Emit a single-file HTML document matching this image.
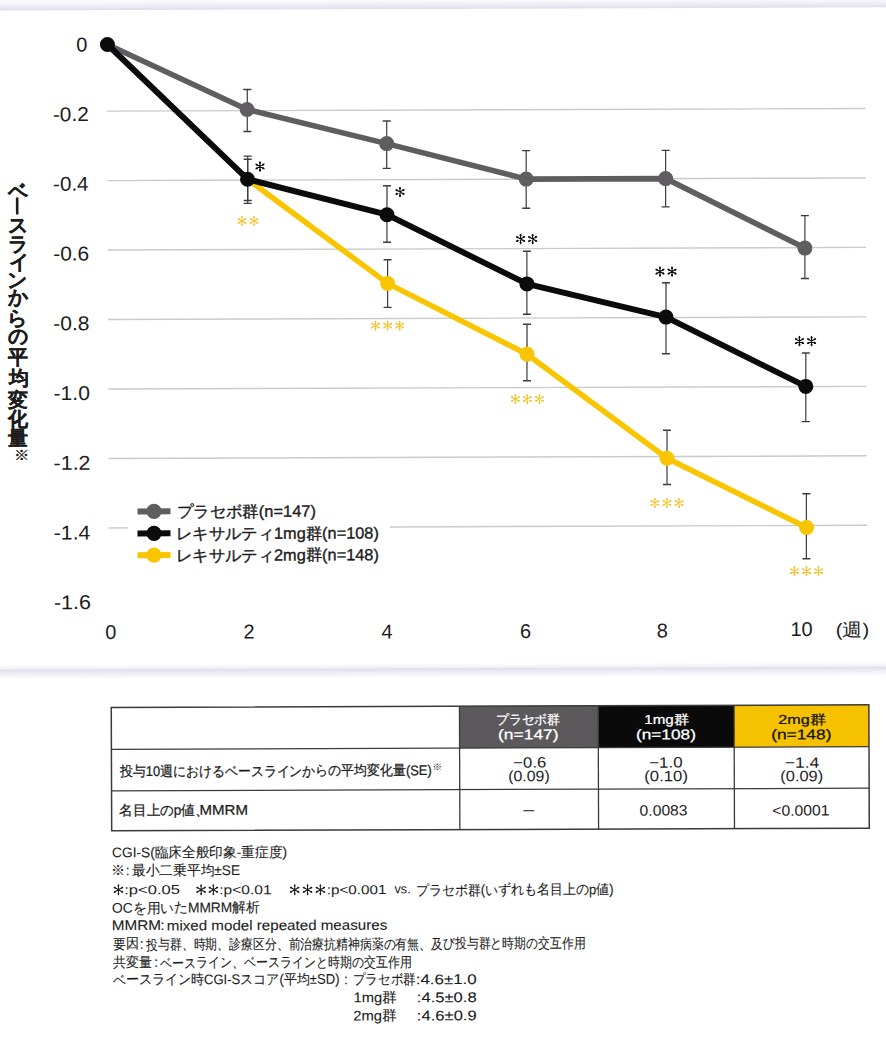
<!DOCTYPE html>
<html lang="ja"><head><meta charset="utf-8"><title>chart</title>
<style>
html,body{margin:0;padding:0;background:#fff;width:886px;height:1037px;overflow:hidden}
svg{display:block;font-family:'Liberation Sans', sans-serif}
</style></head><body>
<svg width="886" height="1037" viewBox="0 0 886 1037">
<g transform="rotate(-0.2 443 518.5)">
<defs><linearGradient id="gt" x1="0" y1="0" x2="0" y2="1"><stop offset="0" stop-color="#f9f8fc"/><stop offset="0.55" stop-color="#ecebf5"/><stop offset="1" stop-color="#dfddeb"/></linearGradient><linearGradient id="gb" x1="0" y1="0" x2="0" y2="1"><stop offset="0" stop-color="#dedce9"/><stop offset="0.3" stop-color="#e9e8f2"/><stop offset="1" stop-color="#fefeff"/></linearGradient></defs>
<rect x="-20" y="-20" width="926" height="21" fill="#f9f8fc"/>
<rect x="-20" y="0.9" width="926" height="8" fill="url(#gt)"/>
<linearGradient id="ga" x1="0" y1="0" x2="0" y2="1"><stop offset="0" stop-color="#ffffff"/><stop offset="1" stop-color="#f0eff6"/></linearGradient>
<rect x="-20" y="663" width="926" height="5" fill="url(#ga)"/>
<rect x="-20" y="668" width="926" height="9.5" fill="url(#gb)"/>
<line x1="108.7" y1="109.95" x2="867" y2="109.95" stroke="#cacaca" stroke-width="1.4"/>
<line x1="108.7" y1="179.42" x2="867" y2="179.42" stroke="#cacaca" stroke-width="1.4"/>
<line x1="108.7" y1="248.89" x2="867" y2="248.89" stroke="#cacaca" stroke-width="1.4"/>
<line x1="108.7" y1="318.36" x2="867" y2="318.36" stroke="#cacaca" stroke-width="1.4"/>
<line x1="108.7" y1="387.83" x2="867" y2="387.83" stroke="#cacaca" stroke-width="1.4"/>
<line x1="108.7" y1="457.30" x2="867" y2="457.30" stroke="#cacaca" stroke-width="1.4"/>
<line x1="108.7" y1="526.77" x2="128" y2="526.77" stroke="#cacaca" stroke-width="1.4"/>
<line x1="390" y1="526.77" x2="867" y2="526.77" stroke="#cacaca" stroke-width="1.4"/>
<rect x="16.99" y="196.02" width="2.6" height="17" fill="#1c1c1c"/>
<line x1="248.80" y1="88.82" x2="248.65" y2="130.82" stroke="#3c3c3c" stroke-width="1.2"/>
<line x1="244.80" y1="88.82" x2="252.80" y2="88.82" stroke="#3c3c3c" stroke-width="1.4"/>
<line x1="244.65" y1="130.82" x2="252.65" y2="130.82" stroke="#3c3c3c" stroke-width="1.4"/>
<line x1="248.97" y1="155.42" x2="248.81" y2="199.82" stroke="#3c3c3c" stroke-width="1.2"/>
<line x1="244.97" y1="155.42" x2="252.97" y2="155.42" stroke="#3c3c3c" stroke-width="1.4"/>
<line x1="244.81" y1="199.82" x2="252.81" y2="199.82" stroke="#3c3c3c" stroke-width="1.4"/>
<line x1="248.96" y1="158.52" x2="248.80" y2="202.72" stroke="#3c3c3c" stroke-width="1.2"/>
<line x1="244.96" y1="158.52" x2="252.96" y2="158.52" stroke="#3c3c3c" stroke-width="1.4"/>
<line x1="244.80" y1="202.72" x2="252.80" y2="202.72" stroke="#3c3c3c" stroke-width="1.4"/>
<line x1="388.09" y1="120.81" x2="387.92" y2="168.21" stroke="#3c3c3c" stroke-width="1.2"/>
<line x1="384.09" y1="120.81" x2="392.09" y2="120.81" stroke="#3c3c3c" stroke-width="1.4"/>
<line x1="383.92" y1="168.21" x2="391.92" y2="168.21" stroke="#3c3c3c" stroke-width="1.4"/>
<line x1="388.16" y1="185.61" x2="387.96" y2="242.11" stroke="#3c3c3c" stroke-width="1.2"/>
<line x1="384.16" y1="185.61" x2="392.16" y2="185.61" stroke="#3c3c3c" stroke-width="1.4"/>
<line x1="383.96" y1="242.11" x2="391.96" y2="242.11" stroke="#3c3c3c" stroke-width="1.4"/>
<line x1="388.50" y1="259.51" x2="388.34" y2="307.21" stroke="#3c3c3c" stroke-width="1.2"/>
<line x1="384.50" y1="259.51" x2="392.50" y2="259.51" stroke="#3c3c3c" stroke-width="1.4"/>
<line x1="384.34" y1="307.21" x2="392.34" y2="307.21" stroke="#3c3c3c" stroke-width="1.4"/>
<line x1="527.48" y1="150.89" x2="527.28" y2="208.59" stroke="#3c3c3c" stroke-width="1.2"/>
<line x1="523.48" y1="150.89" x2="531.48" y2="150.89" stroke="#3c3c3c" stroke-width="1.4"/>
<line x1="523.28" y1="208.59" x2="531.28" y2="208.59" stroke="#3c3c3c" stroke-width="1.4"/>
<line x1="527.83" y1="251.59" x2="527.61" y2="314.59" stroke="#3c3c3c" stroke-width="1.2"/>
<line x1="523.83" y1="251.59" x2="531.83" y2="251.59" stroke="#3c3c3c" stroke-width="1.4"/>
<line x1="523.61" y1="314.59" x2="531.61" y2="314.59" stroke="#3c3c3c" stroke-width="1.4"/>
<line x1="527.68" y1="324.49" x2="527.48" y2="380.99" stroke="#3c3c3c" stroke-width="1.2"/>
<line x1="523.68" y1="324.49" x2="531.68" y2="324.49" stroke="#3c3c3c" stroke-width="1.4"/>
<line x1="523.48" y1="380.99" x2="531.48" y2="380.99" stroke="#3c3c3c" stroke-width="1.4"/>
<line x1="666.88" y1="151.18" x2="666.69" y2="207.68" stroke="#3c3c3c" stroke-width="1.2"/>
<line x1="662.88" y1="151.18" x2="670.88" y2="151.18" stroke="#3c3c3c" stroke-width="1.4"/>
<line x1="662.69" y1="207.68" x2="670.69" y2="207.68" stroke="#3c3c3c" stroke-width="1.4"/>
<line x1="666.82" y1="283.58" x2="666.57" y2="354.48" stroke="#3c3c3c" stroke-width="1.2"/>
<line x1="662.82" y1="283.58" x2="670.82" y2="283.58" stroke="#3c3c3c" stroke-width="1.4"/>
<line x1="662.57" y1="354.48" x2="670.57" y2="354.48" stroke="#3c3c3c" stroke-width="1.4"/>
<line x1="667.31" y1="430.98" x2="667.12" y2="485.28" stroke="#3c3c3c" stroke-width="1.2"/>
<line x1="663.31" y1="430.98" x2="671.31" y2="430.98" stroke="#3c3c3c" stroke-width="1.4"/>
<line x1="663.12" y1="485.28" x2="671.12" y2="485.28" stroke="#3c3c3c" stroke-width="1.4"/>
<line x1="805.96" y1="216.87" x2="805.74" y2="279.76" stroke="#3c3c3c" stroke-width="1.2"/>
<line x1="801.96" y1="216.87" x2="809.96" y2="216.87" stroke="#3c3c3c" stroke-width="1.4"/>
<line x1="801.74" y1="279.76" x2="809.74" y2="279.76" stroke="#3c3c3c" stroke-width="1.4"/>
<line x1="806.38" y1="354.27" x2="806.14" y2="422.87" stroke="#3c3c3c" stroke-width="1.2"/>
<line x1="802.38" y1="354.27" x2="810.38" y2="354.27" stroke="#3c3c3c" stroke-width="1.4"/>
<line x1="802.14" y1="422.87" x2="810.14" y2="422.87" stroke="#3c3c3c" stroke-width="1.4"/>
<line x1="806.48" y1="495.07" x2="806.26" y2="559.97" stroke="#3c3c3c" stroke-width="1.2"/>
<line x1="802.48" y1="495.07" x2="810.48" y2="495.07" stroke="#3c3c3c" stroke-width="1.4"/>
<line x1="802.26" y1="559.97" x2="810.26" y2="559.97" stroke="#3c3c3c" stroke-width="1.4"/>
<polyline points="109.06,43.33 248.53,108.82 388.01,143.41 527.38,179.39 666.79,179.38 805.84,249.36" fill="none" stroke="#5f5d60" stroke-width="5.6" stroke-linejoin="round"/>
<circle cx="248.53" cy="108.82" r="7.5" fill="#5f5d60"/>
<circle cx="388.01" cy="143.41" r="7.5" fill="#5f5d60"/>
<circle cx="527.38" cy="179.39" r="7.5" fill="#5f5d60"/>
<circle cx="666.79" cy="179.38" r="7.5" fill="#5f5d60"/>
<circle cx="805.84" cy="249.36" r="7.5" fill="#5f5d60"/>
<polyline points="248.69,178.52 388.42,283.21 527.57,354.49 667.21,459.08 806.57,528.77" fill="none" stroke="#f8c500" stroke-width="5.5" stroke-linejoin="round"/>
<circle cx="388.42" cy="283.21" r="7.5" fill="#f8c500"/>
<circle cx="527.57" cy="354.49" r="7.5" fill="#f8c500"/>
<circle cx="667.21" cy="459.08" r="7.5" fill="#f8c500"/>
<circle cx="806.57" cy="528.77" r="7.5" fill="#f8c500"/>
<polyline points="109.06,43.33 248.69,178.52 388.06,214.51 527.72,284.19 666.70,317.88 806.26,387.67" fill="none" stroke="#0b0b0b" stroke-width="5.9" stroke-linejoin="round"/>
<circle cx="109.06" cy="43.33" r="7.5" fill="#0b0b0b"/>
<circle cx="248.69" cy="178.52" r="7.5" fill="#0b0b0b"/>
<circle cx="388.06" cy="214.51" r="7.5" fill="#0b0b0b"/>
<circle cx="527.72" cy="284.19" r="7.5" fill="#0b0b0b"/>
<circle cx="666.70" cy="317.88" r="7.5" fill="#0b0b0b"/>
<circle cx="806.26" cy="387.67" r="7.5" fill="#0b0b0b"/>
<path d="M261.23 161.16L261.23 170.56M257.16 163.51L265.30 168.21M257.16 168.21L265.30 163.51" stroke="#0b0b0b" stroke-width="1.12" stroke-linecap="round" fill="none"/>
<circle cx="261.23" cy="169.51" r="1.05" fill="#0b0b0b"/>
<circle cx="258.07" cy="167.69" r="1.05" fill="#0b0b0b"/>
<circle cx="258.07" cy="164.04" r="1.05" fill="#0b0b0b"/>
<circle cx="261.23" cy="162.21" r="1.05" fill="#0b0b0b"/>
<circle cx="264.39" cy="164.04" r="1.05" fill="#0b0b0b"/>
<circle cx="264.39" cy="167.69" r="1.05" fill="#0b0b0b"/>
<path d="M242.99 215.70L242.99 224.90M239.01 218.00L246.97 222.60M239.01 222.60L246.97 218.00" stroke="#f3c22a" stroke-width="1.05" stroke-linecap="round" fill="none"/>
<circle cx="242.99" cy="223.95" r="0.95" fill="#f3c22a"/>
<circle cx="239.83" cy="222.13" r="0.95" fill="#f3c22a"/>
<circle cx="239.83" cy="218.48" r="0.95" fill="#f3c22a"/>
<circle cx="242.99" cy="216.65" r="0.95" fill="#f3c22a"/>
<circle cx="246.15" cy="218.48" r="0.95" fill="#f3c22a"/>
<circle cx="246.15" cy="222.13" r="0.95" fill="#f3c22a"/>
<path d="M255.09 215.74L255.09 224.94M251.11 218.04L259.07 222.64M251.11 222.64L259.07 218.04" stroke="#f3c22a" stroke-width="1.05" stroke-linecap="round" fill="none"/>
<circle cx="255.09" cy="223.99" r="0.95" fill="#f3c22a"/>
<circle cx="251.93" cy="222.17" r="0.95" fill="#f3c22a"/>
<circle cx="251.93" cy="218.52" r="0.95" fill="#f3c22a"/>
<circle cx="255.09" cy="216.69" r="0.95" fill="#f3c22a"/>
<circle cx="258.25" cy="218.52" r="0.95" fill="#f3c22a"/>
<circle cx="258.25" cy="222.17" r="0.95" fill="#f3c22a"/>
<path d="M401.14 187.15L401.14 196.55M397.07 189.50L405.21 194.20M397.07 194.20L405.21 189.50" stroke="#0b0b0b" stroke-width="1.12" stroke-linecap="round" fill="none"/>
<circle cx="401.14" cy="195.50" r="1.05" fill="#0b0b0b"/>
<circle cx="397.98" cy="193.68" r="1.05" fill="#0b0b0b"/>
<circle cx="397.98" cy="190.03" r="1.05" fill="#0b0b0b"/>
<circle cx="401.14" cy="188.20" r="1.05" fill="#0b0b0b"/>
<circle cx="404.30" cy="190.03" r="1.05" fill="#0b0b0b"/>
<circle cx="404.30" cy="193.68" r="1.05" fill="#0b0b0b"/>
<path d="M376.17 320.77L376.17 329.97M372.19 323.07L380.16 327.67M372.19 327.67L380.16 323.07" stroke="#f3c22a" stroke-width="1.05" stroke-linecap="round" fill="none"/>
<circle cx="376.17" cy="329.02" r="0.95" fill="#f3c22a"/>
<circle cx="373.01" cy="327.19" r="0.95" fill="#f3c22a"/>
<circle cx="373.01" cy="323.54" r="0.95" fill="#f3c22a"/>
<circle cx="376.17" cy="321.72" r="0.95" fill="#f3c22a"/>
<circle cx="379.33" cy="323.54" r="0.95" fill="#f3c22a"/>
<circle cx="379.33" cy="327.19" r="0.95" fill="#f3c22a"/>
<path d="M388.27 320.81L388.27 330.01M384.29 323.11L392.26 327.71M384.29 327.71L392.26 323.11" stroke="#f3c22a" stroke-width="1.05" stroke-linecap="round" fill="none"/>
<circle cx="388.27" cy="329.06" r="0.95" fill="#f3c22a"/>
<circle cx="385.11" cy="327.23" r="0.95" fill="#f3c22a"/>
<circle cx="385.11" cy="323.58" r="0.95" fill="#f3c22a"/>
<circle cx="388.27" cy="321.76" r="0.95" fill="#f3c22a"/>
<circle cx="391.43" cy="323.58" r="0.95" fill="#f3c22a"/>
<circle cx="391.43" cy="327.23" r="0.95" fill="#f3c22a"/>
<path d="M400.37 320.85L400.37 330.05M396.39 323.15L404.36 327.75M396.39 327.75L404.36 323.15" stroke="#f3c22a" stroke-width="1.05" stroke-linecap="round" fill="none"/>
<circle cx="400.37" cy="329.10" r="0.95" fill="#f3c22a"/>
<circle cx="397.21" cy="327.28" r="0.95" fill="#f3c22a"/>
<circle cx="397.21" cy="323.63" r="0.95" fill="#f3c22a"/>
<circle cx="400.37" cy="321.80" r="0.95" fill="#f3c22a"/>
<circle cx="403.53" cy="323.63" r="0.95" fill="#f3c22a"/>
<circle cx="403.53" cy="327.28" r="0.95" fill="#f3c22a"/>
<path d="M521.53 234.57L521.53 243.97M517.45 236.92L525.60 241.62M517.45 241.62L525.60 236.92" stroke="#0b0b0b" stroke-width="1.12" stroke-linecap="round" fill="none"/>
<circle cx="521.53" cy="242.92" r="1.05" fill="#0b0b0b"/>
<circle cx="518.36" cy="241.10" r="1.05" fill="#0b0b0b"/>
<circle cx="518.36" cy="237.45" r="1.05" fill="#0b0b0b"/>
<circle cx="521.53" cy="235.62" r="1.05" fill="#0b0b0b"/>
<circle cx="524.69" cy="237.45" r="1.05" fill="#0b0b0b"/>
<circle cx="524.69" cy="241.10" r="1.05" fill="#0b0b0b"/>
<path d="M533.63 234.61L533.63 244.01M529.55 236.96L537.70 241.66M529.55 241.66L537.70 236.96" stroke="#0b0b0b" stroke-width="1.12" stroke-linecap="round" fill="none"/>
<circle cx="533.63" cy="242.96" r="1.05" fill="#0b0b0b"/>
<circle cx="530.46" cy="241.14" r="1.05" fill="#0b0b0b"/>
<circle cx="530.46" cy="237.49" r="1.05" fill="#0b0b0b"/>
<circle cx="533.63" cy="235.66" r="1.05" fill="#0b0b0b"/>
<circle cx="536.79" cy="237.49" r="1.05" fill="#0b0b0b"/>
<circle cx="536.79" cy="241.14" r="1.05" fill="#0b0b0b"/>
<path d="M515.72 394.65L515.72 403.85M511.73 396.95L519.70 401.55M511.73 401.55L519.70 396.95" stroke="#f3c22a" stroke-width="1.05" stroke-linecap="round" fill="none"/>
<circle cx="515.72" cy="402.90" r="0.95" fill="#f3c22a"/>
<circle cx="512.56" cy="401.08" r="0.95" fill="#f3c22a"/>
<circle cx="512.56" cy="397.43" r="0.95" fill="#f3c22a"/>
<circle cx="515.72" cy="395.60" r="0.95" fill="#f3c22a"/>
<circle cx="518.88" cy="397.43" r="0.95" fill="#f3c22a"/>
<circle cx="518.88" cy="401.08" r="0.95" fill="#f3c22a"/>
<path d="M527.82 394.70L527.82 403.90M523.83 397.00L531.80 401.60M523.83 401.60L531.80 397.00" stroke="#f3c22a" stroke-width="1.05" stroke-linecap="round" fill="none"/>
<circle cx="527.82" cy="402.95" r="0.95" fill="#f3c22a"/>
<circle cx="524.66" cy="401.12" r="0.95" fill="#f3c22a"/>
<circle cx="524.66" cy="397.47" r="0.95" fill="#f3c22a"/>
<circle cx="527.82" cy="395.65" r="0.95" fill="#f3c22a"/>
<circle cx="530.98" cy="397.47" r="0.95" fill="#f3c22a"/>
<circle cx="530.98" cy="401.12" r="0.95" fill="#f3c22a"/>
<path d="M539.92 394.74L539.92 403.94M535.93 397.04L543.90 401.64M535.93 401.64L543.90 397.04" stroke="#f3c22a" stroke-width="1.05" stroke-linecap="round" fill="none"/>
<circle cx="539.92" cy="402.99" r="0.95" fill="#f3c22a"/>
<circle cx="536.76" cy="401.16" r="0.95" fill="#f3c22a"/>
<circle cx="536.76" cy="397.51" r="0.95" fill="#f3c22a"/>
<circle cx="539.92" cy="395.69" r="0.95" fill="#f3c22a"/>
<circle cx="543.08" cy="397.51" r="0.95" fill="#f3c22a"/>
<circle cx="543.08" cy="401.16" r="0.95" fill="#f3c22a"/>
<path d="M660.81 267.66L660.81 277.06M656.74 270.01L664.88 274.71M656.74 274.71L664.88 270.01" stroke="#0b0b0b" stroke-width="1.12" stroke-linecap="round" fill="none"/>
<circle cx="660.81" cy="276.01" r="1.05" fill="#0b0b0b"/>
<circle cx="657.65" cy="274.18" r="1.05" fill="#0b0b0b"/>
<circle cx="657.65" cy="270.53" r="1.05" fill="#0b0b0b"/>
<circle cx="660.81" cy="268.71" r="1.05" fill="#0b0b0b"/>
<circle cx="663.97" cy="270.53" r="1.05" fill="#0b0b0b"/>
<circle cx="663.97" cy="274.18" r="1.05" fill="#0b0b0b"/>
<path d="M672.91 267.70L672.91 277.10M668.84 270.05L676.98 274.75M668.84 274.75L676.98 270.05" stroke="#0b0b0b" stroke-width="1.12" stroke-linecap="round" fill="none"/>
<circle cx="672.91" cy="276.05" r="1.05" fill="#0b0b0b"/>
<circle cx="669.75" cy="274.23" r="1.05" fill="#0b0b0b"/>
<circle cx="669.75" cy="270.58" r="1.05" fill="#0b0b0b"/>
<circle cx="672.91" cy="268.75" r="1.05" fill="#0b0b0b"/>
<circle cx="676.07" cy="270.58" r="1.05" fill="#0b0b0b"/>
<circle cx="676.07" cy="274.23" r="1.05" fill="#0b0b0b"/>
<path d="M654.95 499.14L654.95 508.34M650.97 501.44L658.94 506.04M650.97 506.04L658.94 501.44" stroke="#f3c22a" stroke-width="1.05" stroke-linecap="round" fill="none"/>
<circle cx="654.95" cy="507.39" r="0.95" fill="#f3c22a"/>
<circle cx="651.79" cy="505.56" r="0.95" fill="#f3c22a"/>
<circle cx="651.79" cy="501.91" r="0.95" fill="#f3c22a"/>
<circle cx="654.95" cy="500.09" r="0.95" fill="#f3c22a"/>
<circle cx="658.11" cy="501.91" r="0.95" fill="#f3c22a"/>
<circle cx="658.11" cy="505.56" r="0.95" fill="#f3c22a"/>
<path d="M667.05 499.18L667.05 508.38M663.07 501.48L671.04 506.08M663.07 506.08L671.04 501.48" stroke="#f3c22a" stroke-width="1.05" stroke-linecap="round" fill="none"/>
<circle cx="667.05" cy="507.43" r="0.95" fill="#f3c22a"/>
<circle cx="663.89" cy="505.61" r="0.95" fill="#f3c22a"/>
<circle cx="663.89" cy="501.96" r="0.95" fill="#f3c22a"/>
<circle cx="667.05" cy="500.13" r="0.95" fill="#f3c22a"/>
<circle cx="670.21" cy="501.96" r="0.95" fill="#f3c22a"/>
<circle cx="670.21" cy="505.61" r="0.95" fill="#f3c22a"/>
<path d="M679.15 499.22L679.15 508.42M675.17 501.52L683.14 506.12M675.17 506.12L683.14 501.52" stroke="#f3c22a" stroke-width="1.05" stroke-linecap="round" fill="none"/>
<circle cx="679.15" cy="507.47" r="0.95" fill="#f3c22a"/>
<circle cx="675.99" cy="505.65" r="0.95" fill="#f3c22a"/>
<circle cx="675.99" cy="502.00" r="0.95" fill="#f3c22a"/>
<circle cx="679.15" cy="500.17" r="0.95" fill="#f3c22a"/>
<circle cx="682.31" cy="502.00" r="0.95" fill="#f3c22a"/>
<circle cx="682.31" cy="505.65" r="0.95" fill="#f3c22a"/>
<path d="M800.07 337.65L800.07 347.05M796.00 340.00L804.14 344.70M796.00 344.70L804.14 340.00" stroke="#0b0b0b" stroke-width="1.12" stroke-linecap="round" fill="none"/>
<circle cx="800.07" cy="346.00" r="1.05" fill="#0b0b0b"/>
<circle cx="796.91" cy="344.17" r="1.05" fill="#0b0b0b"/>
<circle cx="796.91" cy="340.52" r="1.05" fill="#0b0b0b"/>
<circle cx="800.07" cy="338.70" r="1.05" fill="#0b0b0b"/>
<circle cx="803.23" cy="340.52" r="1.05" fill="#0b0b0b"/>
<circle cx="803.23" cy="344.17" r="1.05" fill="#0b0b0b"/>
<path d="M812.17 337.69L812.17 347.09M808.10 340.04L816.24 344.74M808.10 344.74L816.24 340.04" stroke="#0b0b0b" stroke-width="1.12" stroke-linecap="round" fill="none"/>
<circle cx="812.17" cy="346.04" r="1.05" fill="#0b0b0b"/>
<circle cx="809.01" cy="344.21" r="1.05" fill="#0b0b0b"/>
<circle cx="809.01" cy="340.56" r="1.05" fill="#0b0b0b"/>
<circle cx="812.17" cy="338.74" r="1.05" fill="#0b0b0b"/>
<circle cx="815.33" cy="340.56" r="1.05" fill="#0b0b0b"/>
<circle cx="815.33" cy="344.21" r="1.05" fill="#0b0b0b"/>
<path d="M794.21 567.83L794.21 577.03M790.23 570.13L798.20 574.73M790.23 574.73L798.20 570.13" stroke="#f3c22a" stroke-width="1.05" stroke-linecap="round" fill="none"/>
<circle cx="794.21" cy="576.08" r="0.95" fill="#f3c22a"/>
<circle cx="791.05" cy="574.25" r="0.95" fill="#f3c22a"/>
<circle cx="791.05" cy="570.60" r="0.95" fill="#f3c22a"/>
<circle cx="794.21" cy="568.78" r="0.95" fill="#f3c22a"/>
<circle cx="797.37" cy="570.60" r="0.95" fill="#f3c22a"/>
<circle cx="797.37" cy="574.25" r="0.95" fill="#f3c22a"/>
<path d="M806.31 567.87L806.31 577.07M802.33 570.17L810.30 574.77M802.33 574.77L810.30 570.17" stroke="#f3c22a" stroke-width="1.05" stroke-linecap="round" fill="none"/>
<circle cx="806.31" cy="576.12" r="0.95" fill="#f3c22a"/>
<circle cx="803.15" cy="574.29" r="0.95" fill="#f3c22a"/>
<circle cx="803.15" cy="570.64" r="0.95" fill="#f3c22a"/>
<circle cx="806.31" cy="568.82" r="0.95" fill="#f3c22a"/>
<circle cx="809.47" cy="570.64" r="0.95" fill="#f3c22a"/>
<circle cx="809.47" cy="574.29" r="0.95" fill="#f3c22a"/>
<path d="M818.41 567.91L818.41 577.11M814.43 570.21L822.40 574.81M814.43 574.81L822.40 570.21" stroke="#f3c22a" stroke-width="1.05" stroke-linecap="round" fill="none"/>
<circle cx="818.41" cy="576.16" r="0.95" fill="#f3c22a"/>
<circle cx="815.25" cy="574.34" r="0.95" fill="#f3c22a"/>
<circle cx="815.25" cy="570.69" r="0.95" fill="#f3c22a"/>
<circle cx="818.41" cy="568.86" r="0.95" fill="#f3c22a"/>
<circle cx="821.57" cy="570.69" r="0.95" fill="#f3c22a"/>
<circle cx="821.57" cy="574.34" r="0.95" fill="#f3c22a"/>
<rect x="128" y="493.90" width="262" height="72" fill="#fff"/>
<line x1="137.53" y1="510.39" x2="170.53" y2="510.39" stroke="#5f5d60" stroke-width="6"/>
<circle cx="154.03" cy="510.39" r="7.6" fill="#5f5d60"/>
<line x1="137.45" y1="532.39" x2="170.45" y2="532.39" stroke="#0b0b0b" stroke-width="6"/>
<circle cx="153.95" cy="532.39" r="7.6" fill="#0b0b0b"/>
<line x1="137.37" y1="554.09" x2="170.37" y2="554.09" stroke="#f8c500" stroke-width="6"/>
<circle cx="153.87" cy="554.09" r="7.6" fill="#f8c500"/>
<rect x="458.8" y="706.3" width="138.7" height="41.90000000000009" fill="#5b595c"/>
<rect x="597.5" y="706.3" width="135.89999999999998" height="41.90000000000009" fill="#0a0a0a"/>
<rect x="733.4" y="706.3" width="134.80000000000007" height="41.90000000000009" fill="#f6c200"/>
<rect x="110.6" y="706.3" width="757.6" height="123.40000000000009" fill="none" stroke="#3b3b3b" stroke-width="1.5"/>
<line x1="110.6" y1="748.2" x2="868.2" y2="748.2" stroke="#3b3b3b" stroke-width="1.3"/>
<line x1="110.6" y1="789.7" x2="868.2" y2="789.7" stroke="#3b3b3b" stroke-width="1.3"/>
<line x1="458.8" y1="706.3" x2="458.8" y2="829.7" stroke="#3b3b3b" stroke-width="1.3"/>
<line x1="597.5" y1="706.3" x2="597.5" y2="829.7" stroke="#3b3b3b" stroke-width="1.3"/>
<line x1="733.4" y1="706.3" x2="733.4" y2="829.7" stroke="#3b3b3b" stroke-width="1.3"/>
<path d="M117.16 883.56L117.16 893.56M112.83 886.06L121.49 891.06M112.83 891.06L121.49 886.06" stroke="#1c1c1c" stroke-width="1.05" stroke-linecap="round" fill="none"/>
<circle cx="117.16" cy="892.66" r="0.90" fill="#1c1c1c"/>
<circle cx="113.61" cy="890.61" r="0.90" fill="#1c1c1c"/>
<circle cx="113.61" cy="886.51" r="0.90" fill="#1c1c1c"/>
<circle cx="117.16" cy="884.46" r="0.90" fill="#1c1c1c"/>
<circle cx="120.71" cy="886.51" r="0.90" fill="#1c1c1c"/>
<circle cx="120.71" cy="890.61" r="0.90" fill="#1c1c1c"/>
<path d="M199.83 883.85L199.83 893.85M195.50 886.35L204.16 891.35M195.50 891.35L204.16 886.35" stroke="#1c1c1c" stroke-width="1.05" stroke-linecap="round" fill="none"/>
<circle cx="199.83" cy="892.95" r="0.90" fill="#1c1c1c"/>
<circle cx="196.28" cy="890.90" r="0.90" fill="#1c1c1c"/>
<circle cx="196.28" cy="886.80" r="0.90" fill="#1c1c1c"/>
<circle cx="199.83" cy="884.75" r="0.90" fill="#1c1c1c"/>
<circle cx="203.38" cy="886.80" r="0.90" fill="#1c1c1c"/>
<circle cx="203.38" cy="890.90" r="0.90" fill="#1c1c1c"/>
<path d="M212.08 883.90L212.08 893.90M207.75 886.40L216.41 891.40M207.75 891.40L216.41 886.40" stroke="#1c1c1c" stroke-width="1.05" stroke-linecap="round" fill="none"/>
<circle cx="212.08" cy="893.00" r="0.90" fill="#1c1c1c"/>
<circle cx="208.53" cy="890.95" r="0.90" fill="#1c1c1c"/>
<circle cx="208.53" cy="886.85" r="0.90" fill="#1c1c1c"/>
<circle cx="212.08" cy="884.80" r="0.90" fill="#1c1c1c"/>
<circle cx="215.63" cy="886.85" r="0.90" fill="#1c1c1c"/>
<circle cx="215.63" cy="890.95" r="0.90" fill="#1c1c1c"/>
<path d="M293.42 884.18L293.42 894.18M289.09 886.68L297.75 891.68M289.09 891.68L297.75 886.68" stroke="#1c1c1c" stroke-width="1.05" stroke-linecap="round" fill="none"/>
<circle cx="293.42" cy="893.28" r="0.90" fill="#1c1c1c"/>
<circle cx="289.87" cy="891.23" r="0.90" fill="#1c1c1c"/>
<circle cx="289.87" cy="887.13" r="0.90" fill="#1c1c1c"/>
<circle cx="293.42" cy="885.08" r="0.90" fill="#1c1c1c"/>
<circle cx="296.97" cy="887.13" r="0.90" fill="#1c1c1c"/>
<circle cx="296.97" cy="891.23" r="0.90" fill="#1c1c1c"/>
<path d="M306.26 884.22L306.26 894.22M301.92 886.72L310.59 891.72M301.92 891.72L310.59 886.72" stroke="#1c1c1c" stroke-width="1.05" stroke-linecap="round" fill="none"/>
<circle cx="306.26" cy="893.32" r="0.90" fill="#1c1c1c"/>
<circle cx="302.70" cy="891.27" r="0.90" fill="#1c1c1c"/>
<circle cx="302.70" cy="887.17" r="0.90" fill="#1c1c1c"/>
<circle cx="306.26" cy="885.12" r="0.90" fill="#1c1c1c"/>
<circle cx="309.81" cy="887.17" r="0.90" fill="#1c1c1c"/>
<circle cx="309.81" cy="891.27" r="0.90" fill="#1c1c1c"/>
<path d="M319.09 884.27L319.09 894.27M314.76 886.77L323.42 891.77M314.76 891.77L323.42 886.77" stroke="#1c1c1c" stroke-width="1.05" stroke-linecap="round" fill="none"/>
<circle cx="319.09" cy="893.37" r="0.90" fill="#1c1c1c"/>
<circle cx="315.54" cy="891.32" r="0.90" fill="#1c1c1c"/>
<circle cx="315.54" cy="887.22" r="0.90" fill="#1c1c1c"/>
<circle cx="319.09" cy="885.17" r="0.90" fill="#1c1c1c"/>
<circle cx="322.64" cy="887.22" r="0.90" fill="#1c1c1c"/>
<circle cx="322.64" cy="891.32" r="0.90" fill="#1c1c1c"/>
<text x="77.88" y="50.12" font-size="20" fill="#1c1c1c">0</text>
<text x="54.28" y="119.80" font-size="20" fill="#1c1c1c" textLength="35.89" lengthAdjust="spacingAndGlyphs">-0.2</text>
<text x="54.20" y="189.52" font-size="20" fill="#1c1c1c" textLength="35.56" lengthAdjust="spacingAndGlyphs">-0.4</text>
<text x="54.09" y="259.24" font-size="20" fill="#1c1c1c" textLength="36.04" lengthAdjust="spacingAndGlyphs">-0.6</text>
<text x="53.99" y="328.96" font-size="20" fill="#1c1c1c" textLength="36.24" lengthAdjust="spacingAndGlyphs">-0.8</text>
<text x="53.90" y="398.68" font-size="20" fill="#1c1c1c" textLength="36.45" lengthAdjust="spacingAndGlyphs">-1.0</text>
<text x="53.79" y="468.53" font-size="20" fill="#1c1c1c" textLength="36.94" lengthAdjust="spacingAndGlyphs">-1.2</text>
<text x="53.71" y="538.12" font-size="20" fill="#1c1c1c" textLength="36.59" lengthAdjust="spacingAndGlyphs">-1.4</text>
<text x="53.60" y="607.84" font-size="20" fill="#1c1c1c" textLength="37.08" lengthAdjust="spacingAndGlyphs">-1.6</text>
<text x="104.88" y="637.72" font-size="20" fill="#1c1c1c">0</text>
<text x="243.08" y="637.82" font-size="20" fill="#1c1c1c">2</text>
<text x="381.11" y="638.18" font-size="20" fill="#1c1c1c">4</text>
<text x="519.48" y="638.16" font-size="20" fill="#1c1c1c">6</text>
<text x="656.41" y="638.14" font-size="20" fill="#1c1c1c">8</text>
<text x="790.01" y="637.33" font-size="20" fill="#1c1c1c">10</text>
<text x="835.29" y="637.30" font-size="18" fill="#1c1c1c" textLength="33.54" lengthAdjust="spacingAndGlyphs">(週)</text>
<text x="8.88" y="196.09" font-size="20" font-weight="bold" fill="#1c1c1c" stroke="#1c1c1c" stroke-width="0.15">ベ</text>
<text x="9.13" y="229.99" font-size="20" font-weight="bold" fill="#1c1c1c" stroke="#1c1c1c" stroke-width="0.15">ス</text>
<text x="9.18" y="249.32" font-size="20" font-weight="bold" fill="#1c1c1c" stroke="#1c1c1c" stroke-width="0.15">ラ</text>
<text x="9.62" y="267.22" font-size="20" font-weight="bold" fill="#1c1c1c" stroke="#1c1c1c" stroke-width="0.15">イ</text>
<text x="8.06" y="285.02" font-size="20" font-weight="bold" fill="#1c1c1c" stroke="#1c1c1c" stroke-width="0.15">ン</text>
<text x="8.37" y="302.97" font-size="20" font-weight="bold" fill="#1c1c1c" stroke="#1c1c1c" stroke-width="0.15">か</text>
<text x="8.18" y="323.02" font-size="20" font-weight="bold" fill="#1c1c1c" stroke="#1c1c1c" stroke-width="0.15">ら</text>
<text x="8.23" y="341.94" font-size="20" font-weight="bold" fill="#1c1c1c" stroke="#1c1c1c" stroke-width="0.15">の</text>
<text x="8.41" y="362.72" font-size="20" font-weight="bold" fill="#1c1c1c" stroke="#1c1c1c" stroke-width="0.15">平</text>
<text x="9.22" y="383.59" font-size="20" font-weight="bold" fill="#1c1c1c" stroke="#1c1c1c" stroke-width="0.15">均</text>
<text x="8.27" y="405.02" font-size="20" font-weight="bold" fill="#1c1c1c" stroke="#1c1c1c" stroke-width="0.15">変</text>
<text x="8.07" y="424.79" font-size="20" font-weight="bold" fill="#1c1c1c" stroke="#1c1c1c" stroke-width="0.15">化</text>
<text x="8.13" y="443.84" font-size="20" font-weight="bold" fill="#1c1c1c" stroke="#1c1c1c" stroke-width="0.15">量</text>
<text x="14.51" y="458.33" font-size="14" fill="#1c1c1c" stroke="#1c1c1c" stroke-width="0.3" textLength="15.33" lengthAdjust="spacingAndGlyphs">※</text>
<text x="176.84" y="516.09" font-size="16" fill="#1c1c1c" stroke="#1c1c1c" stroke-width="0.35" textLength="139.05" lengthAdjust="spacingAndGlyphs">プラセボ群(n=147)</text>
<text x="176.01" y="538.20" font-size="16" fill="#1c1c1c" stroke="#1c1c1c" stroke-width="0.35" textLength="202.77" lengthAdjust="spacingAndGlyphs">レキサルティ1mg群(n=108)</text>
<text x="175.93" y="559.90" font-size="16" fill="#1c1c1c" stroke="#1c1c1c" stroke-width="0.35" textLength="202.77" lengthAdjust="spacingAndGlyphs">レキサルティ2mg群(n=148)</text>
<text x="495.21" y="724.20" font-size="13" fill="#fff" stroke="#fff" stroke-width="0.25" textLength="64.24" lengthAdjust="spacingAndGlyphs">プラセボ群</text>
<text x="497.21" y="739.52" font-size="14" fill="#fff" stroke="#fff" stroke-width="0.25" textLength="60.65" lengthAdjust="spacingAndGlyphs">(n=147)</text>
<text x="643.52" y="724.68" font-size="13" fill="#fff" stroke="#fff" stroke-width="0.25" textLength="44.72" lengthAdjust="spacingAndGlyphs">1mg群</text>
<text x="635.11" y="740.00" font-size="14" fill="#fff" stroke="#fff" stroke-width="0.25" textLength="60.14" lengthAdjust="spacingAndGlyphs">(n=108)</text>
<text x="777.47" y="725.15" font-size="13" fill="#111" stroke="#111" stroke-width="0.25" textLength="47.69" lengthAdjust="spacingAndGlyphs">2mg群</text>
<text x="770.41" y="740.47" font-size="14" fill="#111" stroke="#111" stroke-width="0.25" textLength="60.24" lengthAdjust="spacingAndGlyphs">(n=148)</text>
<text x="512.51" y="767.93" font-size="15" fill="#1c1c1c" textLength="32.93" lengthAdjust="spacingAndGlyphs">−0.6</text>
<text x="507.30" y="781.47" font-size="15" fill="#1c1c1c" textLength="41.49" lengthAdjust="spacingAndGlyphs">(0.09)</text>
<text x="648.40" y="768.40" font-size="15" fill="#1c1c1c" textLength="33.35" lengthAdjust="spacingAndGlyphs">−1.0</text>
<text x="643.36" y="781.95" font-size="15" fill="#1c1c1c" textLength="43.68" lengthAdjust="spacingAndGlyphs">(0.10)</text>
<text x="783.77" y="769.00" font-size="15" fill="#1c1c1c" textLength="34.72" lengthAdjust="spacingAndGlyphs">−1.4</text>
<text x="779.37" y="782.43" font-size="15" fill="#1c1c1c" textLength="42.95" lengthAdjust="spacingAndGlyphs">(0.09)</text>
<text x="521.16" y="816.10" font-size="15" fill="#1c1c1c" textLength="13.09" lengthAdjust="spacingAndGlyphs">−</text>
<text x="638.56" y="816.39" font-size="15" fill="#1c1c1c" textLength="47.99" lengthAdjust="spacingAndGlyphs">0.0083</text>
<text x="771.29" y="816.87" font-size="15" fill="#1c1c1c" textLength="57.26" lengthAdjust="spacingAndGlyphs">&lt;0.0001</text>
<text x="119.05" y="775.04" font-size="14" fill="#1c1c1c" stroke="#1c1c1c" stroke-width="0.25" textLength="311.80" lengthAdjust="spacingAndGlyphs">投与10週におけるベースラインからの平均変化量(SE)</text>
<text x="430.99" y="770.43" font-size="9" fill="#1c1c1c" textLength="10.38" lengthAdjust="spacingAndGlyphs">※</text>
<text x="118.28" y="813.75" font-size="14" fill="#1c1c1c" stroke="#1c1c1c" stroke-width="0.25" textLength="75.59" lengthAdjust="spacingAndGlyphs">名目上のp値</text>
<text x="194.23" y="813.89" font-size="14" fill="#1c1c1c" stroke="#1c1c1c" stroke-width="0.25">、</text>
<text x="198.51" y="813.98" font-size="14" fill="#1c1c1c" stroke="#1c1c1c" stroke-width="0.25" textLength="48.50" lengthAdjust="spacingAndGlyphs">MMRM</text>
<text x="110.95" y="856.20" font-size="14" fill="#1c1c1c" stroke="#1c1c1c" stroke-width="0.1" textLength="174.96" lengthAdjust="spacingAndGlyphs">CGI-S(臨床全般印象-重症度)</text>
<text x="109.81" y="874.26" font-size="14" fill="#1c1c1c" stroke="#1c1c1c" stroke-width="0.1" textLength="14.13" lengthAdjust="spacingAndGlyphs">※</text>
<text x="124.60" y="874.05" font-size="14" fill="#1c1c1c" stroke="#1c1c1c" stroke-width="0.1">:</text>
<text x="130.87" y="874.25" font-size="14" fill="#1c1c1c" stroke="#1c1c1c" stroke-width="0.1" textLength="107.95" lengthAdjust="spacingAndGlyphs">最小二乗平均±SE</text>
<text x="122.93" y="893.18" font-size="13" fill="#1c1c1c" textLength="55.71" lengthAdjust="spacingAndGlyphs">:p&lt;0.05</text>
<text x="217.91" y="893.51" font-size="13" fill="#1c1c1c" textLength="52.40" lengthAdjust="spacingAndGlyphs">:p&lt;0.01</text>
<text x="325.33" y="893.90" font-size="13" fill="#1c1c1c" textLength="59.93" lengthAdjust="spacingAndGlyphs">:p&lt;0.001</text>
<text x="393.20" y="893.05" font-size="13" fill="#1c1c1c" textLength="16.30" lengthAdjust="spacingAndGlyphs">vs.</text>
<text x="414.27" y="894.70" font-size="14" fill="#1c1c1c" stroke="#1c1c1c" stroke-width="0.1" textLength="198.14" lengthAdjust="spacingAndGlyphs">プラセボ群(いずれも名目上のp値)</text>
<text x="110.75" y="911.55" font-size="14" fill="#1c1c1c" stroke="#1c1c1c" stroke-width="0.1" textLength="147.75" lengthAdjust="spacingAndGlyphs">OCを用いたMMRM解析</text>
<text x="110.29" y="928.98" font-size="14" fill="#1c1c1c" stroke="#1c1c1c" stroke-width="0.1" textLength="49.33" lengthAdjust="spacingAndGlyphs">MMRM</text>
<text x="159.11" y="929.07" font-size="14" fill="#1c1c1c" stroke="#1c1c1c" stroke-width="0.1">:</text>
<text x="165.37" y="929.47" font-size="14" fill="#1c1c1c" stroke="#1c1c1c" stroke-width="0.1" textLength="220.43" lengthAdjust="spacingAndGlyphs">mixed model repeated measures</text>
<text x="111.82" y="947.39" font-size="14" fill="#1c1c1c" stroke="#1c1c1c" stroke-width="0.1" textLength="25.99" lengthAdjust="spacingAndGlyphs">要因</text>
<text x="138.34" y="947.70" font-size="14" fill="#1c1c1c" stroke="#1c1c1c" stroke-width="0.1">:</text>
<text x="144.62" y="948.48" font-size="14" fill="#1c1c1c" stroke="#1c1c1c" stroke-width="0.1" textLength="439.37" lengthAdjust="spacingAndGlyphs">投与群、時期、診療区分、前治療抗精神病薬の有無、及び投与群と時期の交互作用</text>
<text x="111.75" y="965.96" font-size="14" fill="#1c1c1c" stroke="#1c1c1c" stroke-width="0.1" textLength="39.07" lengthAdjust="spacingAndGlyphs">共変量</text>
<text x="152.78" y="966.05" font-size="14" fill="#1c1c1c" stroke="#1c1c1c" stroke-width="0.1">:</text>
<text x="158.55" y="966.62" font-size="14" fill="#1c1c1c" stroke="#1c1c1c" stroke-width="0.1" textLength="251.58" lengthAdjust="spacingAndGlyphs">ベースライン、ベースラインと時期の交互作用</text>
<text x="110.99" y="983.39" font-size="14" fill="#1c1c1c" stroke="#1c1c1c" stroke-width="0.1" textLength="226.90" lengthAdjust="spacingAndGlyphs">ベースライン時CGI-Sスコア(平均±SD)</text>
<text x="342.32" y="983.81" font-size="14" fill="#1c1c1c" stroke="#1c1c1c" stroke-width="0.1">:</text>
<text x="351.19" y="983.94" font-size="14" fill="#1c1c1c" stroke="#1c1c1c" stroke-width="0.1" textLength="62.95" lengthAdjust="spacingAndGlyphs">プラセボ群</text>
<text x="414.08" y="984.16" font-size="14" fill="#1c1c1c" stroke="#1c1c1c" stroke-width="0.1" textLength="61.01" lengthAdjust="spacingAndGlyphs">:4.6±1.0</text>
<text x="351.77" y="1001.91" font-size="14" fill="#1c1c1c" stroke="#1c1c1c" stroke-width="0.1" textLength="43.46" lengthAdjust="spacingAndGlyphs">1mg群</text>
<text x="415.14" y="1002.16" font-size="14" fill="#1c1c1c" stroke="#1c1c1c" stroke-width="0.1" textLength="59.88" lengthAdjust="spacingAndGlyphs">:4.5±0.8</text>
<text x="351.43" y="1020.23" font-size="14" fill="#1c1c1c" stroke="#1c1c1c" stroke-width="0.1" textLength="43.74" lengthAdjust="spacingAndGlyphs">2mg群</text>
<text x="415.08" y="1020.36" font-size="14" fill="#1c1c1c" stroke="#1c1c1c" stroke-width="0.1" textLength="59.88" lengthAdjust="spacingAndGlyphs">:4.6±0.9</text>
</g>
</svg>
</body></html>
